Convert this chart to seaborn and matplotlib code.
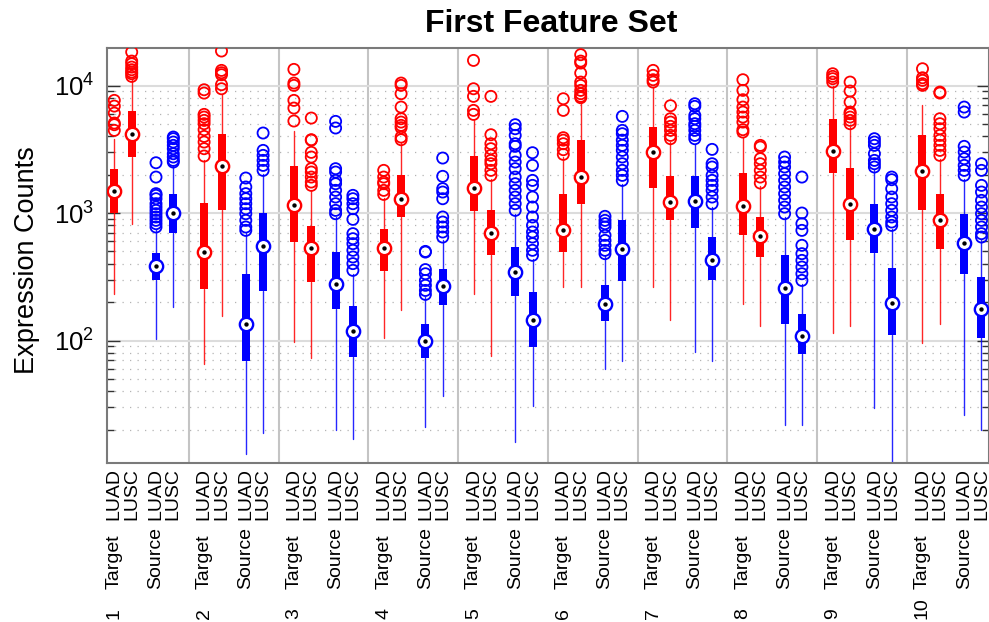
import matplotlib
matplotlib.use("Agg")
import matplotlib.pyplot as plt
import seaborn as sns
import numpy as np
from matplotlib import transforms
from matplotlib.ticker import LogLocator, NullFormatter

# ---------------- data ----------------
group_labels = ["1", "2", "3", "4", "5", "6", "7", "8", "9", "10"]
set_labels = ["Target", "Source"]
type_labels = ["LUAD", "LUSC"]

# order inside each group: Target-LUAD, Target-LUSC, Source-LUAD, Source-LUSC
whisker_hi = [3830, 11320, 754, 2365,
              2588, 8630, 697, 2035,
              4400, 1524, 931, 334,
              1319, 3540, 219, 610,
              5330, 1859, 988, 438,
              2750, 7425, 457, 1698,
              9730, 3605, 3497, 1114,
              3945, 1619, 931, 276,
              9850, 4727, 2161, 754,
              6990, 2668, 1859, 610]
q3 = [2228, 6270, 489, 1419,
      1205, 4190, 334, 1006,
      2336, 796, 494, 187,
      754, 1999, 134.7, 361,
      2800, 1049, 541, 240,
      1400, 3730, 274, 876,
      4727, 1940, 1940, 648,
      2072, 936, 466, 162,
      5428, 2268, 1177, 373,
      4115, 1419, 982, 315]
median = [1488, 4190, 384, 1000,
          494, 2336, 134, 554,
          1162, 531, 279, 118.7,
          531, 1280, 98.5, 266,
          1580, 697, 344, 144,
          740, 1905, 192, 519,
          2992, 1227, 1242, 430,
          1142, 664, 258, 109,
          3064, 1169, 745, 197,
          2148, 881, 582, 175.6]
q1 = [1000, 2750, 296, 697,
      255, 1049, 69, 244,
      592, 288, 178, 74,
      349, 931, 73, 189,
      1030, 471, 223, 89,
      494, 1184, 142, 293,
      1571, 887, 767, 300,
      672, 452, 134.7, 78.8,
      2059, 618, 489, 110,
      1062, 525, 332, 105]
whisker_lo = [233, 825, 102, 183,
              65, 155, 12.9, 18.9,
              97, 73, 20, 17,
              104.7, 172.5, 21, 36.7,
              233, 75, 16, 30.6,
              263, 263, 60, 69,
              263, 145.7, 81, 69,
              194.5, 129, 21.9, 21.9,
              115, 129, 29.7, 10,
              96, 134.7, 25.9, 20]
outliers = [
    [7650, 6900, 6080, 5080, 4930, 4450],
    [18320, 15560, 14830, 13960, 13310, 12760, 12380, 11800],
    [2480, 1915, 1419, 1376, 1295, 1184, 1114, 1049, 988, 931, 876, 825, 777],
    [3945, 3830, 3605, 3394, 3197, 2918, 2750, 2588, 2512],
    [9270, 8730, 5940, 5660, 5330, 5020, 4505, 3990, 3605, 3197, 2800],
    [18660, 13150, 12610, 12160, 10160, 9440],
    [1882, 1600, 1419, 1295, 1184, 1081, 988, 876, 777, 731],
    [4243, 3100, 2833, 2588, 2365, 2161],
    [13390, 10460, 10030, 7650, 6660, 5270],
    [5560, 3760, 3730, 2992, 2750, 2228, 2097, 1915, 1750, 1648],
    [5236, 4645, 2228, 2097, 1803, 1698, 1506, 1335, 1184, 1049, 988],
    [1376, 1295, 1184, 1081, 892, 689, 629, 575, 510, 452, 401, 355],
    [2161, 1915, 1750, 1698, 1506, 1400],
    [10460, 10030, 8630, 6780, 5495, 5170, 4870, 4670, 3945, 3760],
    [500, 494, 360, 334, 296, 271, 247, 230],
    [2700, 1940, 1552, 1461, 1295, 931, 850, 777, 710, 648],
    [15750, 9440, 8225, 6385, 5940],
    [8225, 4115, 3497, 3197, 2833, 2588, 2437, 2161, 1974],
    [4930, 4585, 4065, 3497, 3334, 2833, 2512, 2228, 1915, 1698, 1506, 1335, 1184, 1049],
    [2973, 2365, 1803, 1648, 1335, 1114, 931, 800, 710, 648, 575, 510, 466],
    [7880, 6385, 3900, 3730, 3497, 3140, 2885],
    [17460, 15560, 15010, 12530, 10650, 10030, 9165, 8630, 8225, 8030],
    [942, 876, 825, 777, 668, 610, 558, 510, 480],
    [5730, 4450, 4190, 3730, 3394, 3100, 2750, 2437, 2161, 1974, 1803],
    [13150, 12020, 11110, 10650],
    [6950, 5495, 5170, 4786, 4450, 4065, 3830],
    [7200, 6865, 5835, 5495, 5020, 4786, 4450, 4065, 3830],
    [3157, 2437, 2296, 1974, 1803, 1648, 1506, 1335, 1184],
    [11110, 9165, 7745, 6780, 6195, 5660, 5170, 4505, 4318],
    [3394, 3294, 2668, 2437, 2161, 1915, 1719],
    [2750, 2512, 2296, 2035, 1803, 1600, 1419, 1257, 1114, 988],
    [1915, 1000, 825, 731, 558, 480, 425, 377, 334, 296],
    [12380, 11800, 11320, 10650],
    [10650, 9056, 7425, 6195, 6010, 5660, 5330, 5020],
    [3830, 3605, 3394, 2918, 2588, 2437, 2296],
    [1915, 1826, 1552, 1335, 1184, 1049, 931, 850, 800],
    [13550, 11510, 10980, 10340, 10030],
    [8890, 8730, 5495, 5020, 4585, 4065, 3730, 3394, 3100, 2833],
    [6780, 6195, 3334, 3008, 2668, 2365, 2161, 1974],
    [2437, 2161, 1648, 1461, 1257, 1114, 988, 876, 777, 689, 648],
]

# ---------------- style ----------------
sns.set_style("white")
plt.rcParams["font.family"] = ["Liberation Sans", "DejaVu Sans"]
plt.rcParams["mathtext.fontset"] = "custom"
plt.rcParams["mathtext.rm"] = "Liberation Sans"
plt.rcParams["mathtext.it"] = "Liberation Sans:italic"
plt.rcParams["mathtext.bf"] = "Liberation Sans:bold"
plt.rcParams["text.color"] = "black"
plt.rcParams["axes.labelcolor"] = "black"
plt.rcParams["xtick.color"] = "black"
plt.rcParams["ytick.color"] = "black"

RED = (1.0, 0.0, 0.0)
BLUE = (0.0, 0.0, 1.0)

W, H = 989, 622
fig = plt.figure(figsize=(W / 100, H / 100), dpi=100)
ax_left, ax_right, ax_top, ax_bot = 107, 989, 48.3, 462.7
ax = fig.add_axes([ax_left / W, 1 - ax_bot / H, (ax_right - ax_left) / W, (ax_bot - ax_top) / H])

# layout of boxes
GROUP_STEP = 89.8
OFFSETS = [0.0, 17.4, 41.7, 59.0]
n_groups = len(group_labels)
positions, colors = [], []
for g in range(n_groups):
    for k, off in enumerate(OFFSETS):
        positions.append(g * GROUP_STEP + off)
        colors.append(RED if k < 2 else BLUE)

ax.set_yscale("log")
x0 = 114.3
ax.set_xlim(ax_left - x0, ax_right - x0)
ax.set_ylim(11, 19600)

# grid
ax.yaxis.set_major_locator(LogLocator(base=10))
ax.yaxis.set_minor_locator(LogLocator(base=10, subs=np.arange(2, 10)))
ax.yaxis.set_minor_formatter(NullFormatter())
ax.grid(False)
ax.grid(which="major", axis="y", color="#dcdcdc", lw=1.5, ls="-", zorder=0)
ax.grid(which="minor", axis="y", color="#b4b4b4", lw=0.9, ls=(0, (1, 5)), zorder=0)
ax.set_axisbelow(True)

# group separators
for g in range(n_groups - 1):
    ax.axvline(g * GROUP_STEP + 74.4, color="#c4c4c4", lw=1.5, zorder=0.5)

# boxes + whiskers
stats = []
for i in range(len(positions)):
    stats.append(dict(med=median[i], q1=q1[i], q3=q3[i],
                      whislo=whisker_lo[i], whishi=whisker_hi[i], fliers=[]))
bp = ax.bxp(stats, positions=positions, widths=8, patch_artist=True,
            showcaps=False, showfliers=False, manage_ticks=False,
            medianprops=dict(visible=False))
for i, box in enumerate(bp["boxes"]):
    box.set_facecolor(colors[i])
    box.set_edgecolor(colors[i])
    box.set_linewidth(0)
    box.set_zorder(3)
for j, wh in enumerate(bp["whiskers"]):
    wh.set_color(colors[j // 2])
    wh.set_linewidth(1.0)
    wh.set_alpha(0.85)
    wh.set_zorder(2)

# outliers
for col in (RED, BLUE):
    xs, ys = [], []
    for i in range(len(positions)):
        if colors[i] == col:
            xs += [positions[i]] * len(outliers[i])
            ys += outliers[i]
    sns.scatterplot(x=xs, y=ys, color=col, s=64, linewidth=1.3, ax=ax,
                    legend=False, zorder=4)
    coll = ax.collections[-1]
    coll.set_facecolor("none")
    coll.set_edgecolor(col)

# medians: white circle with coloured ring and black centre dot
for col in (RED, BLUE):
    xs = [positions[i] for i in range(len(positions)) if colors[i] == col]
    ys = [median[i] for i in range(len(positions)) if colors[i] == col]
    sns.scatterplot(x=xs, y=ys, color="white", s=92, linewidth=1.7, ax=ax,
                    legend=False, zorder=5)
    ax.collections[-1].set_edgecolor(col)
    sns.scatterplot(x=xs, y=ys, color="black", s=10, linewidth=0, ax=ax,
                    legend=False, zorder=6)

# axes cosmetics
for sp in ax.spines.values():
    sp.set_visible(True)
    sp.set_color("#7a7a7a")
    sp.set_linewidth(1.5)
ax.set_xticks([])
ax.tick_params(axis="y", which="major", direction="in", length=9, width=1,
               left=True, right=True, labelsize=18.5, pad=9, color="#333333",
               labelcolor="black")
ax.tick_params(axis="y", which="minor", direction="in", length=5, width=1,
               left=True, right=True, color="#333333")

# texts
blend = transforms.blended_transform_factory(ax.transData, fig.transFigure)
for g in range(n_groups):
    for k in range(4):
        p = g * GROUP_STEP + OFFSETS[k]
        ax.text(p, 1 - 468 / H, type_labels[k % 2], rotation=90, ha="center",
                va="top", fontsize=14, color="black", transform=blend, clip_on=False)
    for s in range(2):
        p = g * GROUP_STEP + OFFSETS[2 * s]
        ax.text(p, 1 - 589 / H, set_labels[s], rotation=90, ha="center",
                va="bottom", fontsize=14, color="black", transform=blend, clip_on=False)
    ax.text(g * GROUP_STEP, 1 - 619 / H, group_labels[g], rotation=90,
            ha="center", va="bottom", fontsize=14, color="black", transform=blend,
            clip_on=False)

fig.text(551 / W, 1 - 24 / H, "First Feature Set", ha="center", va="center",
         fontsize=23, fontweight="bold", color="black")
fig.text(27 / W, 1 - 260 / H, "Expression Counts", rotation=90, ha="center",
         va="center", fontsize=19.5, color="black")

fig.savefig("out.png", dpi=100)
